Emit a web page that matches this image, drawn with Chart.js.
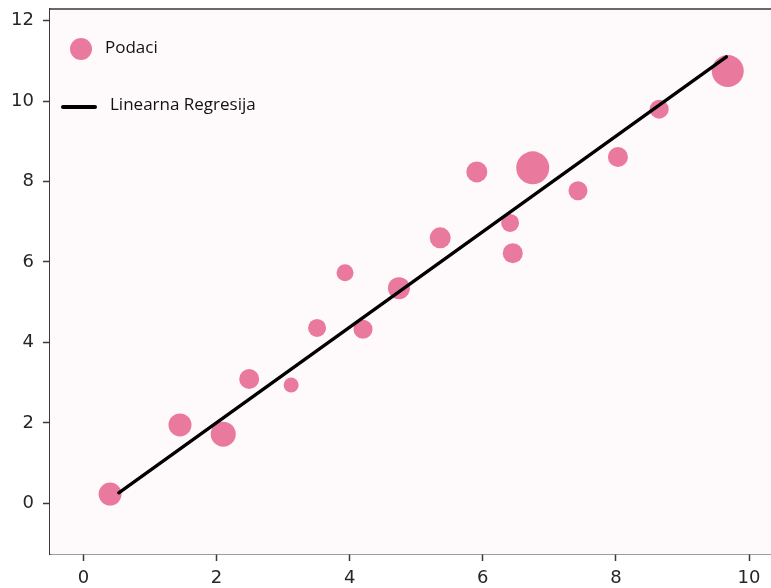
<!DOCTYPE html>
<html>
<head>
<meta charset="utf-8">
<script src="https://cdn.jsdelivr.net/npm/chart.js@4.4.1/dist/chart.umd.min.js"></script>
<style>
  html, body { margin: 0; padding: 0; background: #ffffff; }
  #wrap { width: 771px; height: 588px; }
</style>
</head>
<body>
<div id="wrap"><canvas id="c" width="771" height="588"></canvas></div>
<script>
// ---- data ----
const pointX = [0.40, 1.45, 2.10, 2.49, 3.12, 3.51, 3.93, 4.20, 4.74, 5.36, 5.91, 6.41, 6.45, 6.75, 7.43, 8.03, 8.65, 9.68];
const pointY = [0.23, 1.95, 1.72, 3.09, 2.94, 4.36, 5.73, 4.33, 5.35, 6.60, 8.24, 6.97, 6.22, 8.34, 7.77, 8.61, 9.80, 10.75];
const pointSize = [11.5, 11.5, 12.5, 10, 7.5, 9, 8.5, 9.5, 11, 10.5, 10.5, 9, 10, 16.5, 9.5, 10, 9.5, 16];
const lineX = [0.53, 9.66];
const lineY = [0.26, 11.10];
const xTicks = [0, 2, 4, 6, 8, 10];
const yTicks = [0, 2, 4, 6, 8, 10, 12];
const seriesNames = ['Podaci', 'Linearna Regresija'];

const pink = 'rgb(234,122,157)';
const spine = '#3a3a3a';

const bubbleData = pointX.map((x, i) => ({ x: x, y: pointY[i], r: pointSize[i] }));
const lineData = lineX.map((x, i) => ({ x: x, y: lineY[i] }));

const areaPlugin = {
  id: 'areaPlugin',
  beforeDatasetsDraw(chart) {
    const { ctx, chartArea: a } = chart;
    ctx.save();
    ctx.fillStyle = '#fef9fb';
    ctx.fillRect(a.left, a.top, a.right - a.left, a.bottom - a.top);
    ctx.restore();
  },
  afterDraw(chart) {
    const { ctx, chartArea: a } = chart;
    ctx.save();
    // top spine
    ctx.strokeStyle = spine;
    ctx.lineWidth = 1.5;
    ctx.beginPath();
    ctx.moveTo(a.left, a.top);
    ctx.lineTo(a.right, a.top);
    ctx.stroke();
    // legend
    const ds = chart.data.datasets;
    ctx.font = '17px "Open Sans", sans-serif';
    ctx.textBaseline = 'middle';
    ctx.textAlign = 'left';
    ctx.fillStyle = ds[0].backgroundColor;
    ctx.beginPath();
    ctx.arc(a.left + 31, a.top + 40, 11, 0, Math.PI * 2);
    ctx.fill();
    ctx.fillStyle = '#111';
    ctx.fillText(ds[0].label, a.left + 55, a.top + 39);
    ctx.strokeStyle = ds[1].borderColor;
    ctx.lineWidth = 4;
    ctx.lineCap = 'round';
    ctx.beginPath();
    ctx.moveTo(a.left + 13, a.top + 98);
    ctx.lineTo(a.left + 45, a.top + 98);
    ctx.stroke();
    ctx.fillText(ds[1].label, a.left + 60, a.top + 96);
    ctx.restore();
  }
};

new Chart(document.getElementById('c'), {
  type: 'bubble',
  data: {
    datasets: [
      {
        type: 'bubble',
        label: seriesNames[0],
        data: bubbleData,
        backgroundColor: pink,
        borderWidth: 0,
        hoverBorderWidth: 0,
        order: 1
      },
      {
        type: 'line',
        label: seriesNames[1],
        data: lineData,
        borderColor: '#000000',
        backgroundColor: '#000000',
        borderWidth: 3.3,
        borderCapStyle: 'round',
        pointRadius: 0,
        fill: false,
        order: 0
      }
    ]
  },
  options: {
    responsive: false,
    animation: false,
    layout: { autoPadding: false, padding: { top: 9, right: 0, left: 0, bottom: 0 } },
    plugins: {
      legend: { display: false },
      tooltip: { enabled: false }
    },
    scales: {
      x: {
        type: 'linear',
        min: -0.503,
        max: 10.33,
        afterBuildTicks: (s) => { s.ticks = xTicks.map(v => ({ value: v })); },
        afterFit: (s) => { s.height = 34; s.paddingLeft = 0; s.paddingRight = 0; },
        grid: { drawOnChartArea: false, drawTicks: true, tickLength: 7, tickColor: spine, tickWidth: 1.5 },
        border: { display: true, color: spine, width: 1.5 },
        ticks: { color: '#262626', font: { family: '"DejaVu Sans", sans-serif', size: 18 }, padding: 7, maxRotation: 0 }
      },
      y: {
        type: 'linear',
        min: -1.26,
        max: 12.29,
        afterBuildTicks: (s) => { s.ticks = yTicks.map(v => ({ value: v })); },
        afterFit: (s) => { s.width = 50; s.paddingTop = 0; s.paddingBottom = 0; },
        grid: { drawOnChartArea: false, drawTicks: true, tickLength: 7, tickColor: spine, tickWidth: 1.5 },
        border: { display: true, color: spine, width: 1.5 },
        ticks: { color: '#262626', font: { family: '"DejaVu Sans", sans-serif', size: 18 }, padding: 9 }
      }
    }
  },
  plugins: [areaPlugin]
});
</script>
</body>
</html>
